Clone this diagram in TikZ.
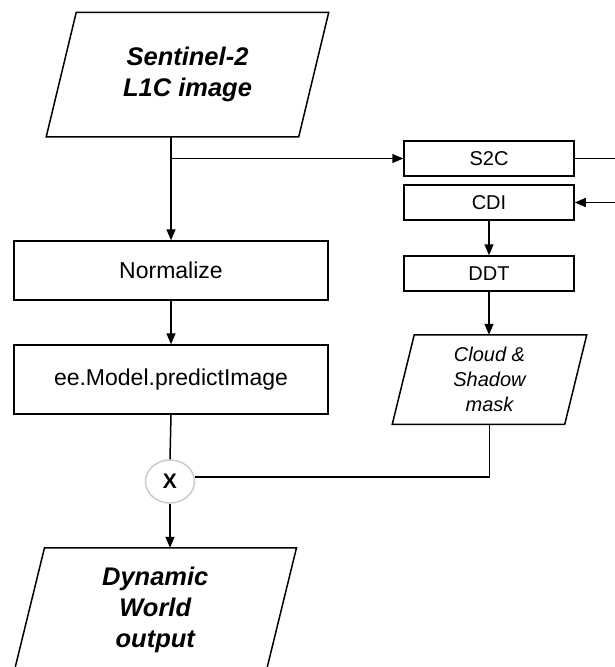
\documentclass[tikz,border=0pt]{standalone}
\usepackage{fontspec}
\setmainfont{Liberation Sans}
\usetikzlibrary{arrows.meta,shapes.geometric}

\newcommand{\slantbox}[2]{%
  \draw ([xshift=#2pt]#1.north west) -- (#1.north east)
    -- ([xshift=-#2pt]#1.south east) -- (#1.south west) -- cycle;}

\begin{document}
\begin{tikzpicture}[x=1pt,y=-1pt,line width=1.5pt,
  arr/.style={-{Triangle[length=11pt,width=9pt]}},
  bigbox/.style={draw,rectangle,inner sep=0pt,minimum width=314pt,
    font=\fontsize{23}{27}\selectfont},
  smallbox/.style={draw,rectangle,inner sep=0pt,minimum width=170pt,
    minimum height=35pt,font=\fontsize{20}{24}\selectfont},
  iobox/.style={rectangle,inner sep=0pt,minimum width=281pt,
    minimum height=123pt,align=center,
    font=\fontsize{25.5}{31}\bfseries\itshape\selectfont},
  maskbox/.style={rectangle,inner sep=0pt,minimum width=193pt,
    minimum height=88pt,align=center,
    font=\fontsize{20}{25}\itshape\selectfont},
  multnode/.style={ellipse,draw=gray!40,fill=white,minimum width=49pt,
    minimum height=43pt,inner sep=0pt,font=\fontsize{21}{24}\bfseries\selectfont}]
  \useasboundingbox (0,0) rectangle (614,667);

  \node[iobox] (src) at (187.5,74.5) {Sentinel-2\\L1C image};
  \slantbox{src}{30}
  \node[bigbox,minimum height=59pt] (norm) at (171,270.5) {Normalize};
  \node[bigbox,minimum height=69pt] (pred) at (171,379.5) {ee.Model.predictImage};

  \node[smallbox] (s2c) at (489,158.5) {S2C};
  \node[smallbox] (cdi) at (489,202.5) {CDI};
  \node[smallbox] (ddt) at (489,273.5) {DDT};
  \node[maskbox] (mask) at (489.5,379.5) {Cloud \&\\Shadow\\mask};
  \slantbox{mask}{22}

  \node[multnode] (mult) at (170,481.5) {X};
  \node[iobox] (out) at (155.25,610) {Dynamic\\World\\output};
  \slantbox{out}{30.5}

  \coordinate (turn) at (617,158.5);

  \draw[arr] (norm.north |- src.south) -- (norm.north);
  \draw[arr] (norm.north |- s2c.west) -- (s2c.west);
  \draw[arr] (s2c.east) -- (turn) |- (cdi.east);
  \draw[arr] (cdi.south) -- (ddt.north);
  \draw[arr] (ddt.south) -- (ddt.south |- mask.north);
  \draw[arr] (norm.south) -- (pred.north);
  \draw (pred.south) -- (mult.north);
  \draw (mask.south) |- ([yshift=4.5pt]mult.east);
  \draw[arr] (mult.south) -- (mult.south |- out.north);
\end{tikzpicture}
\end{document}
